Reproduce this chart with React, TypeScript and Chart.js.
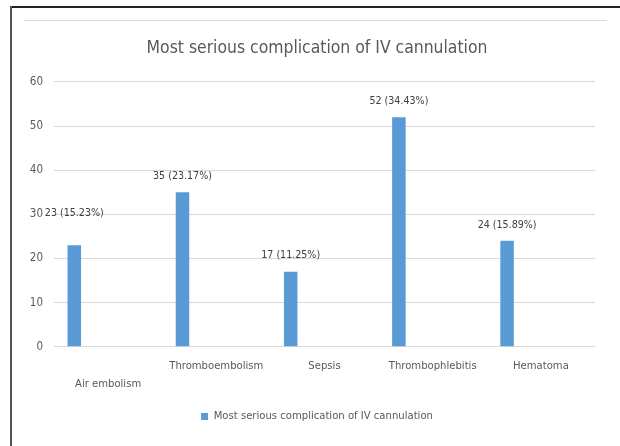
import React, { useEffect, useRef } from "react";
import { Chart, registerables } from "chart.js";

Chart.register(...registerables);

const categories = ["Air embolism", "Thromboembolism", "Sepsis", "Thrombophlebitis", "Hematoma"];
const counts = [23, 35, 17, 52, 24];
const percents = ["15.23%", "23.17%", "11.25%", "34.43%", "15.89%"];
const yTickValues = [0, 10, 20, 30, 40, 50, 60];
const seriesName = "Most serious complication of IV cannulation";
const chartTitle = "Most serious complication of IV cannulation";

const FONT = "'Liberation Sans Narrow', 'DejaVu Sans Condensed', 'Liberation Sans', sans-serif";
const TEXT = "#595959";
const BAR = "#5B9BD5";

const dataLabels = {
  id: "dataLabels",
  afterDatasetsDraw(chart: any) {
    const meta = chart.getDatasetMeta(0);
    const ctx = chart.ctx;
    ctx.save();
    ctx.font = `10.6px ${FONT}`;
    ctx.fillStyle = "#404040";
    ctx.textAlign = "center";
    ctx.textBaseline = "middle";
    meta.data.forEach((bar: any, i: number) => {
      // first label was dragged higher in the original chart
      const lift = i === 0 ? 32 : 16;
      ctx.fillText(`${counts[i]} (${percents[i]})`, bar.x, bar.y - lift);
    });
    ctx.restore();
  },
};

export default function App() {
  const ref = useRef<HTMLCanvasElement>(null);
  useEffect(() => {
    if (!ref.current) return;
    const empty = () => ({
      label: "",
      data: categories.map(() => null),
      backgroundColor: BAR,
    });
    const chart = new Chart(ref.current, {
      type: "bar",
      data: {
        labels: categories,
        datasets: [
          { label: seriesName, data: counts, backgroundColor: BAR },
          empty(),
          empty(),
          empty(),
          empty(),
          empty(),
        ] as any,
      },
      options: {
        animation: false,
        responsive: false,
        maintainAspectRatio: false,
        layout: { padding: { left: 14, right: 0, top: 38, bottom: 14 } },
        datasets: { bar: { categoryPercentage: 0.75, barPercentage: 1 } } as any,
        plugins: {
          title: {
            display: true,
            text: chartTitle,
            color: TEXT,
            font: { family: FONT, size: 17.4, weight: "normal" },
            padding: { top: 0, bottom: 23 },
          },
          legend: {
            position: "bottom",
            labels: {
              filter: (item: any) => item.datasetIndex === 0,
              boxWidth: 7,
              boxHeight: 7,
              color: TEXT,
              font: { family: FONT, size: 11.2 },
              padding: 18,
            },
          },
          tooltip: { enabled: false },
        },
        scales: {
          x: {
            grid: { display: false, drawTicks: false },
            border: { display: false },
            afterFit: (axis: any) => {
              axis.height = 46;
            },
            ticks: {
              color: TEXT,
              font: { family: FONT, size: 11.2, lineHeight: 1.6 },
              padding: 10,
              maxRotation: 0,
              autoSkip: false,
              callback: (_v: any, i: number) => (i === 0 ? ["", categories[i]] : categories[i]),
            },
          },
          y: {
            min: 0,
            max: 60,
            afterBuildTicks: (axis: any) => {
              axis.ticks = yTickValues.map((v) => ({ value: v }));
            },
            afterFit: (axis: any) => {
              axis.width = 40;
            },
            grid: { color: "#d9d9d9", drawTicks: false, lineWidth: 1 },
            border: { display: false },
            ticks: {
              color: TEXT,
              font: { family: FONT, size: 11.5 },
              padding: 11,
            },
          },
          spacer: {
            type: "linear",
            position: "right",
            display: true,
            grid: { display: false, drawTicks: false },
            border: { display: false },
            ticks: { display: false },
            afterFit: (axis: any) => {
              axis.width = 25;
            },
          },
        },
      },
      plugins: [dataLabels],
    });
    return () => chart.destroy();
  }, []);

  return (
    <div style={{ position: "fixed", left: 0, top: 0, width: 620, height: 446, background: "#fff", overflow: "hidden" }}>
      <div style={{ position: "absolute", left: 10, top: 6, width: 610, height: 2, background: "#222" }} />
      <div style={{ position: "absolute", left: 10, top: 6, width: 2, height: 440, background: "#555" }} />
      <div style={{ position: "absolute", left: 24, top: 20, width: 583, height: 1, background: "#d9d9d9" }} />
      <canvas ref={ref} width={620} height={446} style={{ position: "absolute", left: 0, top: 0 }} />
    </div>
  );
}
